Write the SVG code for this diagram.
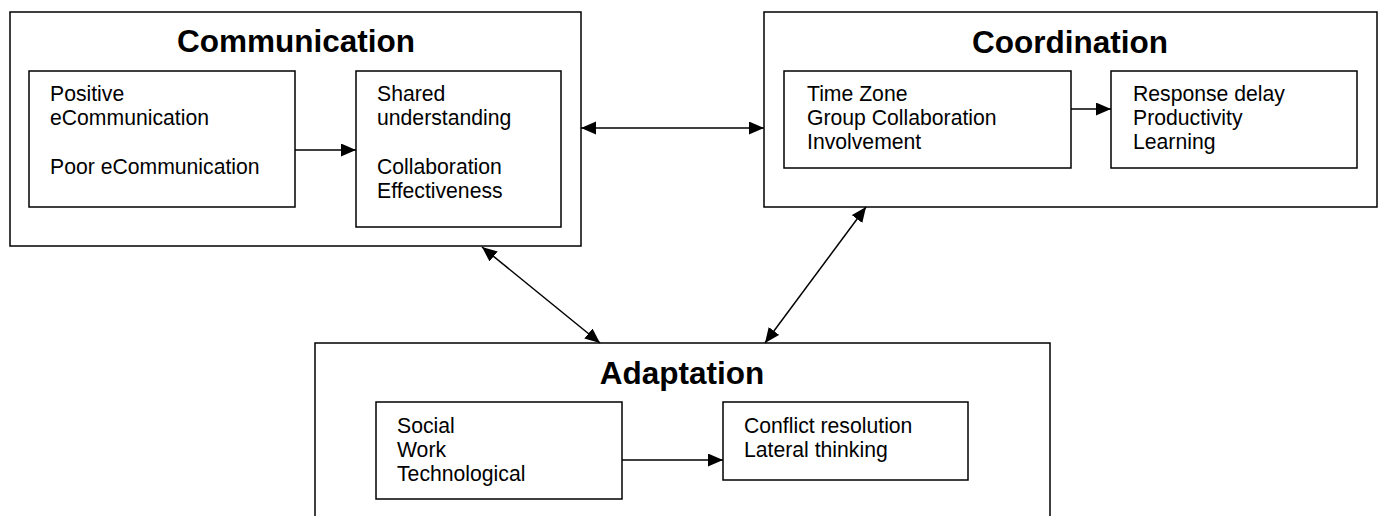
<svg xmlns="http://www.w3.org/2000/svg" width="1380" height="516" viewBox="0 0 1380 516">
<style>
.box{fill:#fff;stroke:#000;stroke-width:1.5}
.t{font-family:"Liberation Sans",Arial,sans-serif;font-weight:bold;font-size:31.5px;text-anchor:middle;fill:#000}
.b{font-family:"Liberation Sans",Arial,sans-serif;font-size:21.2px;fill:#000}
.c line{stroke:#000;stroke-width:1.5}
</style>
<defs>
<marker id="ah" markerUnits="userSpaceOnUse" markerWidth="16" markerHeight="14" refX="15" refY="6.5" orient="auto-start-reverse">
<path d="M0,0 L15,6.5 L0,13 z" fill="#000"/>
</marker>
</defs>
<rect width="1380" height="516" fill="#fff"/>
<g id="communication">
<rect class="box" x="10" y="12" width="571" height="234"/>
<text class="t" x="296" y="52">Communication</text>
<g id="comm-causes">
<rect class="box" x="29" y="71" width="266" height="136"/>
<text class="b" x="50" y="101">Positive</text>
<text class="b" x="50" y="125">eCommunication</text>
<text class="b" x="50" y="174">Poor eCommunication</text>
</g>
<g id="comm-effects">
<rect class="box" x="356" y="71" width="205" height="156"/>
<text class="b" x="377" y="101">Shared</text>
<text class="b" x="377" y="125">understanding</text>
<text class="b" x="377" y="174">Collaboration</text>
<text class="b" x="377" y="198">Effectiveness</text>
</g>
</g>
<g id="coordination">
<rect class="box" x="764" y="12" width="613" height="195"/>
<text class="t" x="1070" y="53">Coordination</text>
<g id="coord-causes">
<rect class="box" x="784" y="71" width="287" height="97"/>
<text class="b" x="807" y="101">Time Zone</text>
<text class="b" x="807" y="125">Group Collaboration</text>
<text class="b" x="807" y="149">Involvement</text>
</g>
<g id="coord-effects">
<rect class="box" x="1111" y="71" width="246" height="97"/>
<text class="b" x="1133" y="101">Response delay</text>
<text class="b" x="1133" y="125">Productivity</text>
<text class="b" x="1133" y="149">Learning</text>
</g>
</g>
<g id="adaptation">
<rect class="box" x="315" y="343" width="735" height="200"/>
<text class="t" x="682" y="384">Adaptation</text>
<g id="adapt-causes">
<rect class="box" x="376" y="402" width="246" height="97"/>
<text class="b" x="397" y="433">Social</text>
<text class="b" x="397" y="457">Work</text>
<text class="b" x="397" y="481">Technological</text>
</g>
<g id="adapt-effects">
<rect class="box" x="723" y="402" width="245" height="78"/>
<text class="b" x="744" y="433">Conflict resolution</text>
<text class="b" x="744" y="457">Lateral thinking</text>
</g>
</g>
<g id="connectors" class="c">
<line x1="295" y1="150" x2="356" y2="150" marker-end="url(#ah)"/>
<line x1="1071" y1="109" x2="1111" y2="109" marker-end="url(#ah)"/>
<line x1="622" y1="460" x2="723" y2="460" marker-end="url(#ah)"/>
<line x1="581" y1="128" x2="764" y2="128" marker-start="url(#ah)" marker-end="url(#ah)"/>
<line x1="482" y1="247" x2="600" y2="343" marker-start="url(#ah)" marker-end="url(#ah)"/>
<line x1="866" y1="207" x2="765" y2="343" marker-start="url(#ah)" marker-end="url(#ah)"/>
</g>
</svg>
